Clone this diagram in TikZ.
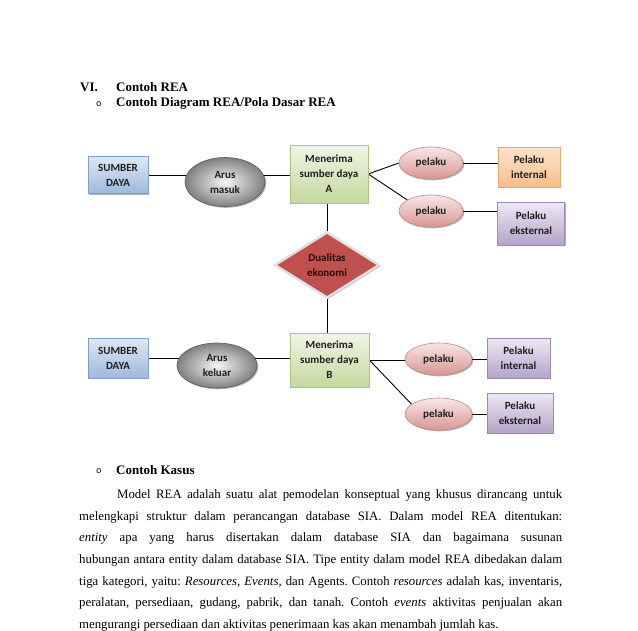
\documentclass[tikz,border=0pt]{standalone}
\usepackage{fontspec}
\setmainfont{Liberation Serif}
\newfontfamily\diagfont{Carlito}
\newfontfamily\bulletfont{Liberation Mono}
\usetikzlibrary{shapes.geometric,shadows}
\pgfdeclarelayer{background}
\pgfsetlayers{background,main}
\definecolor{sdTop}{HTML}{DDE8F5}
\definecolor{sdBot}{HTML}{9DB9DC}
\definecolor{sdBorder}{HTML}{7F9FC8}
\definecolor{grTop}{HTML}{F0F5E6}
\definecolor{grBot}{HTML}{C4D89D}
\definecolor{grBorder}{HTML}{AAC480}
\definecolor{pkTop}{HTML}{F7E6E5}
\definecolor{pkBot}{HTML}{D89694}
\definecolor{pkBorder}{HTML}{C68886}
\definecolor{orTop}{HTML}{FDE4CF}
\definecolor{orBot}{HTML}{F9BD88}
\definecolor{orBorder}{HTML}{EDA96C}
\definecolor{puTop}{HTML}{EEE9F4}
\definecolor{puBot}{HTML}{B4A3C8}
\definecolor{puBorder}{HTML}{9C8AB6}
\definecolor{dmFill}{HTML}{C0504D}
\definecolor{dmText}{HTML}{2B0707}
\definecolor{arIn}{HTML}{F6F6F6}
\definecolor{arOut}{HTML}{808080}
\definecolor{arBorder}{HTML}{5A5A5A}
\begin{document}
\begin{tikzpicture}[x=1pt,y=-1pt,
  shad/.style={drop shadow={shadow xshift=1.3pt,shadow yshift=-1.3pt,opacity=0.3,fill=black}},
  dnode/.style={inner sep=0pt,align=center,line width=0.6pt,shad,
     font=\diagfont\bfseries\fontsize{11}{15}\selectfont,text=black!88},
  sdbox/.style={dnode,rectangle,top color=sdTop,bottom color=sdBot,draw=sdBorder},
  grbox/.style={dnode,rectangle,top color=grTop,bottom color=grBot,draw=grBorder},
  orbox/.style={dnode,rectangle,top color=orTop,bottom color=orBot,draw=orBorder},
  pubox/.style={dnode,rectangle,top color=puTop,bottom color=puBot,draw=puBorder},
  pkell/.style={dnode,ellipse,top color=pkTop,bottom color=pkBot,draw=pkBorder},
  arell/.style={dnode,ellipse,shading=radial,inner color=arIn,outer color=arOut,draw=arBorder},
  dual/.style={dnode,diamond,fill=dmFill,draw=black!12,line width=2.4pt,text=dmText},
  conn/.style={draw=black,line width=0.9pt},
  para/.style={anchor=base west,inner sep=0pt,font=\fontsize{12.8}{15}\selectfont},
  head/.style={anchor=base west,inner sep=0pt,font=\bfseries\fontsize{13}{15}\selectfont},
  bul/.style={anchor=base west,inner sep=0pt,font=\bulletfont\fontsize{9}{10}\selectfont}]
\begin{pgfonlayer}{background}
\fill[white] (0,0) rectangle (638,630);
\end{pgfonlayer}
\useasboundingbox (0,0) rectangle (638,630);

% headings
\node[head] (h1n) at (80,91.5) {VI.};
\node[head] (h1) at (116,91.5) {Contoh REA};
\node[bul] (b1) at (96,106) {o};
\node[head] (h2) at (116,106.5) {Contoh Diagram REA/Pola Dasar REA};

% top row
\node[sdbox,minimum width=60pt,minimum height=37pt] (sd1) at (118,175) {SUMBER\\DAYA};
\node[arell,minimum width=80pt,minimum height=49pt] (ar1) at (225,182) {Arus\\masuk};
\node[grbox,minimum width=78pt,minimum height=58pt] (mA) at (329,174) {Menerima\\sumber daya\\A};
\node[pkell,minimum width=64pt,minimum height=32pt] (p1) at (431,163) {pelaku};
\node[pkell,minimum width=64pt,minimum height=32pt] (p2) at (431,211) {pelaku};
\node[orbox,minimum width=62pt,minimum height=40pt] (in1) at (529,167) {Pelaku\\internal};
\node[pubox,minimum width=67pt,minimum height=43pt] (ek1) at (531,223.5) {Pelaku\\eksternal};

% diamond
\node[dual,minimum width=105pt,minimum height=66pt,aspect=1.6] (du) at (327,265) {Dualitas\\ekonomi};

% bottom row
\node[sdbox,minimum width=60pt,minimum height=40pt] (sd2) at (118,358) {SUMBER\\DAYA};
\node[arell,minimum width=80pt,minimum height=45pt] (ar2) at (217,365.5) {Arus\\keluar};
\node[grbox,minimum width=79pt,minimum height=54pt] (mB) at (329.5,360) {Menerima\\sumber daya\\B};
\node[pkell,minimum width=67pt,minimum height=32pt] (p3) at (438.5,359) {pelaku};
\node[pkell,minimum width=67pt,minimum height=32pt] (p4) at (438.5,414) {pelaku};
\node[pubox,minimum width=63pt,minimum height=40pt] (in2) at (518.5,358) {Pelaku\\internal};
\node[pubox,minimum width=66pt,minimum height=40pt] (ek2) at (520,413) {Pelaku\\eksternal};

% connectors
\begin{pgfonlayer}{background}
\draw[conn] (sd1.east) -- (sd1.east -| ar1.center);
\draw[conn] (sd1.east -| ar1.center) -- (sd1.east -| mA.west);
\draw[conn] (mA.east) -- (p1.west);
\draw[conn] (mA.east) -- (p2.155);
\draw[conn] (p1.east) -- (p1.east -| in1.west);
\draw[conn] (p2.east) -- (ek1.west |- p2.east);
\draw[conn] (du.north |- mA.south) -- (du.north);
\draw[conn] (du.south) -- (du.south |- mB.north);
\draw[conn] (sd2.east) -- (sd2.east -| ar2.center);
\draw[conn] (sd2.east -| ar2.center) -- (sd2.east -| mB.west);
\draw[conn] (mB.east) -- (mB.east -| p3.west);
\draw[conn] (mB.east) -- (p4.160);
\draw[conn] (p3.east) -- (p3.east -| in2.west);
\draw[conn] (p4.east) -- (p4.east -| ek2.west);
\end{pgfonlayer}

% text section
\node[bul] (b2) at (96,473.5) {o};
\node[head] (h3) at (116,474) {Contoh Kasus};
\frenchspacing
\node[para] (l1) at (117,498) {\makebox[445pt][s]{Model REA adalah suatu alat pemodelan konseptual yang khusus dirancang untuk}};
\node[para] (l2) at (79,520) {\makebox[483pt][s]{melengkapi struktur dalam perancangan database SIA. Dalam model REA ditentukan:}};
\node[para] (l3) at (79,541.5) {\makebox[483pt][s]{\textit{entity} apa yang harus disertakan dalam database SIA dan bagaimana susunan}};
\node[para] (l4) at (79,563) {\makebox[483pt][s]{hubungan antara entity dalam database SIA. Tipe entity dalam model REA dibedakan dalam}};
\node[para] (l5) at (79,585) {\makebox[483pt][s]{tiga kategori, yaitu: \textit{Resources, Events,} dan Agents. Contoh \textit{resources} adalah kas, inventaris,}};
\node[para] (l6) at (79,606.5) {\makebox[483pt][s]{peralatan, persediaan, gudang, pabrik, dan tanah. Contoh \textit{events} aktivitas penjualan akan}};
\node[para] (l7) at (79,628) {mengurangi persediaan dan aktivitas penerimaan kas akan menambah jumlah kas.};
\end{tikzpicture}
\end{document}
